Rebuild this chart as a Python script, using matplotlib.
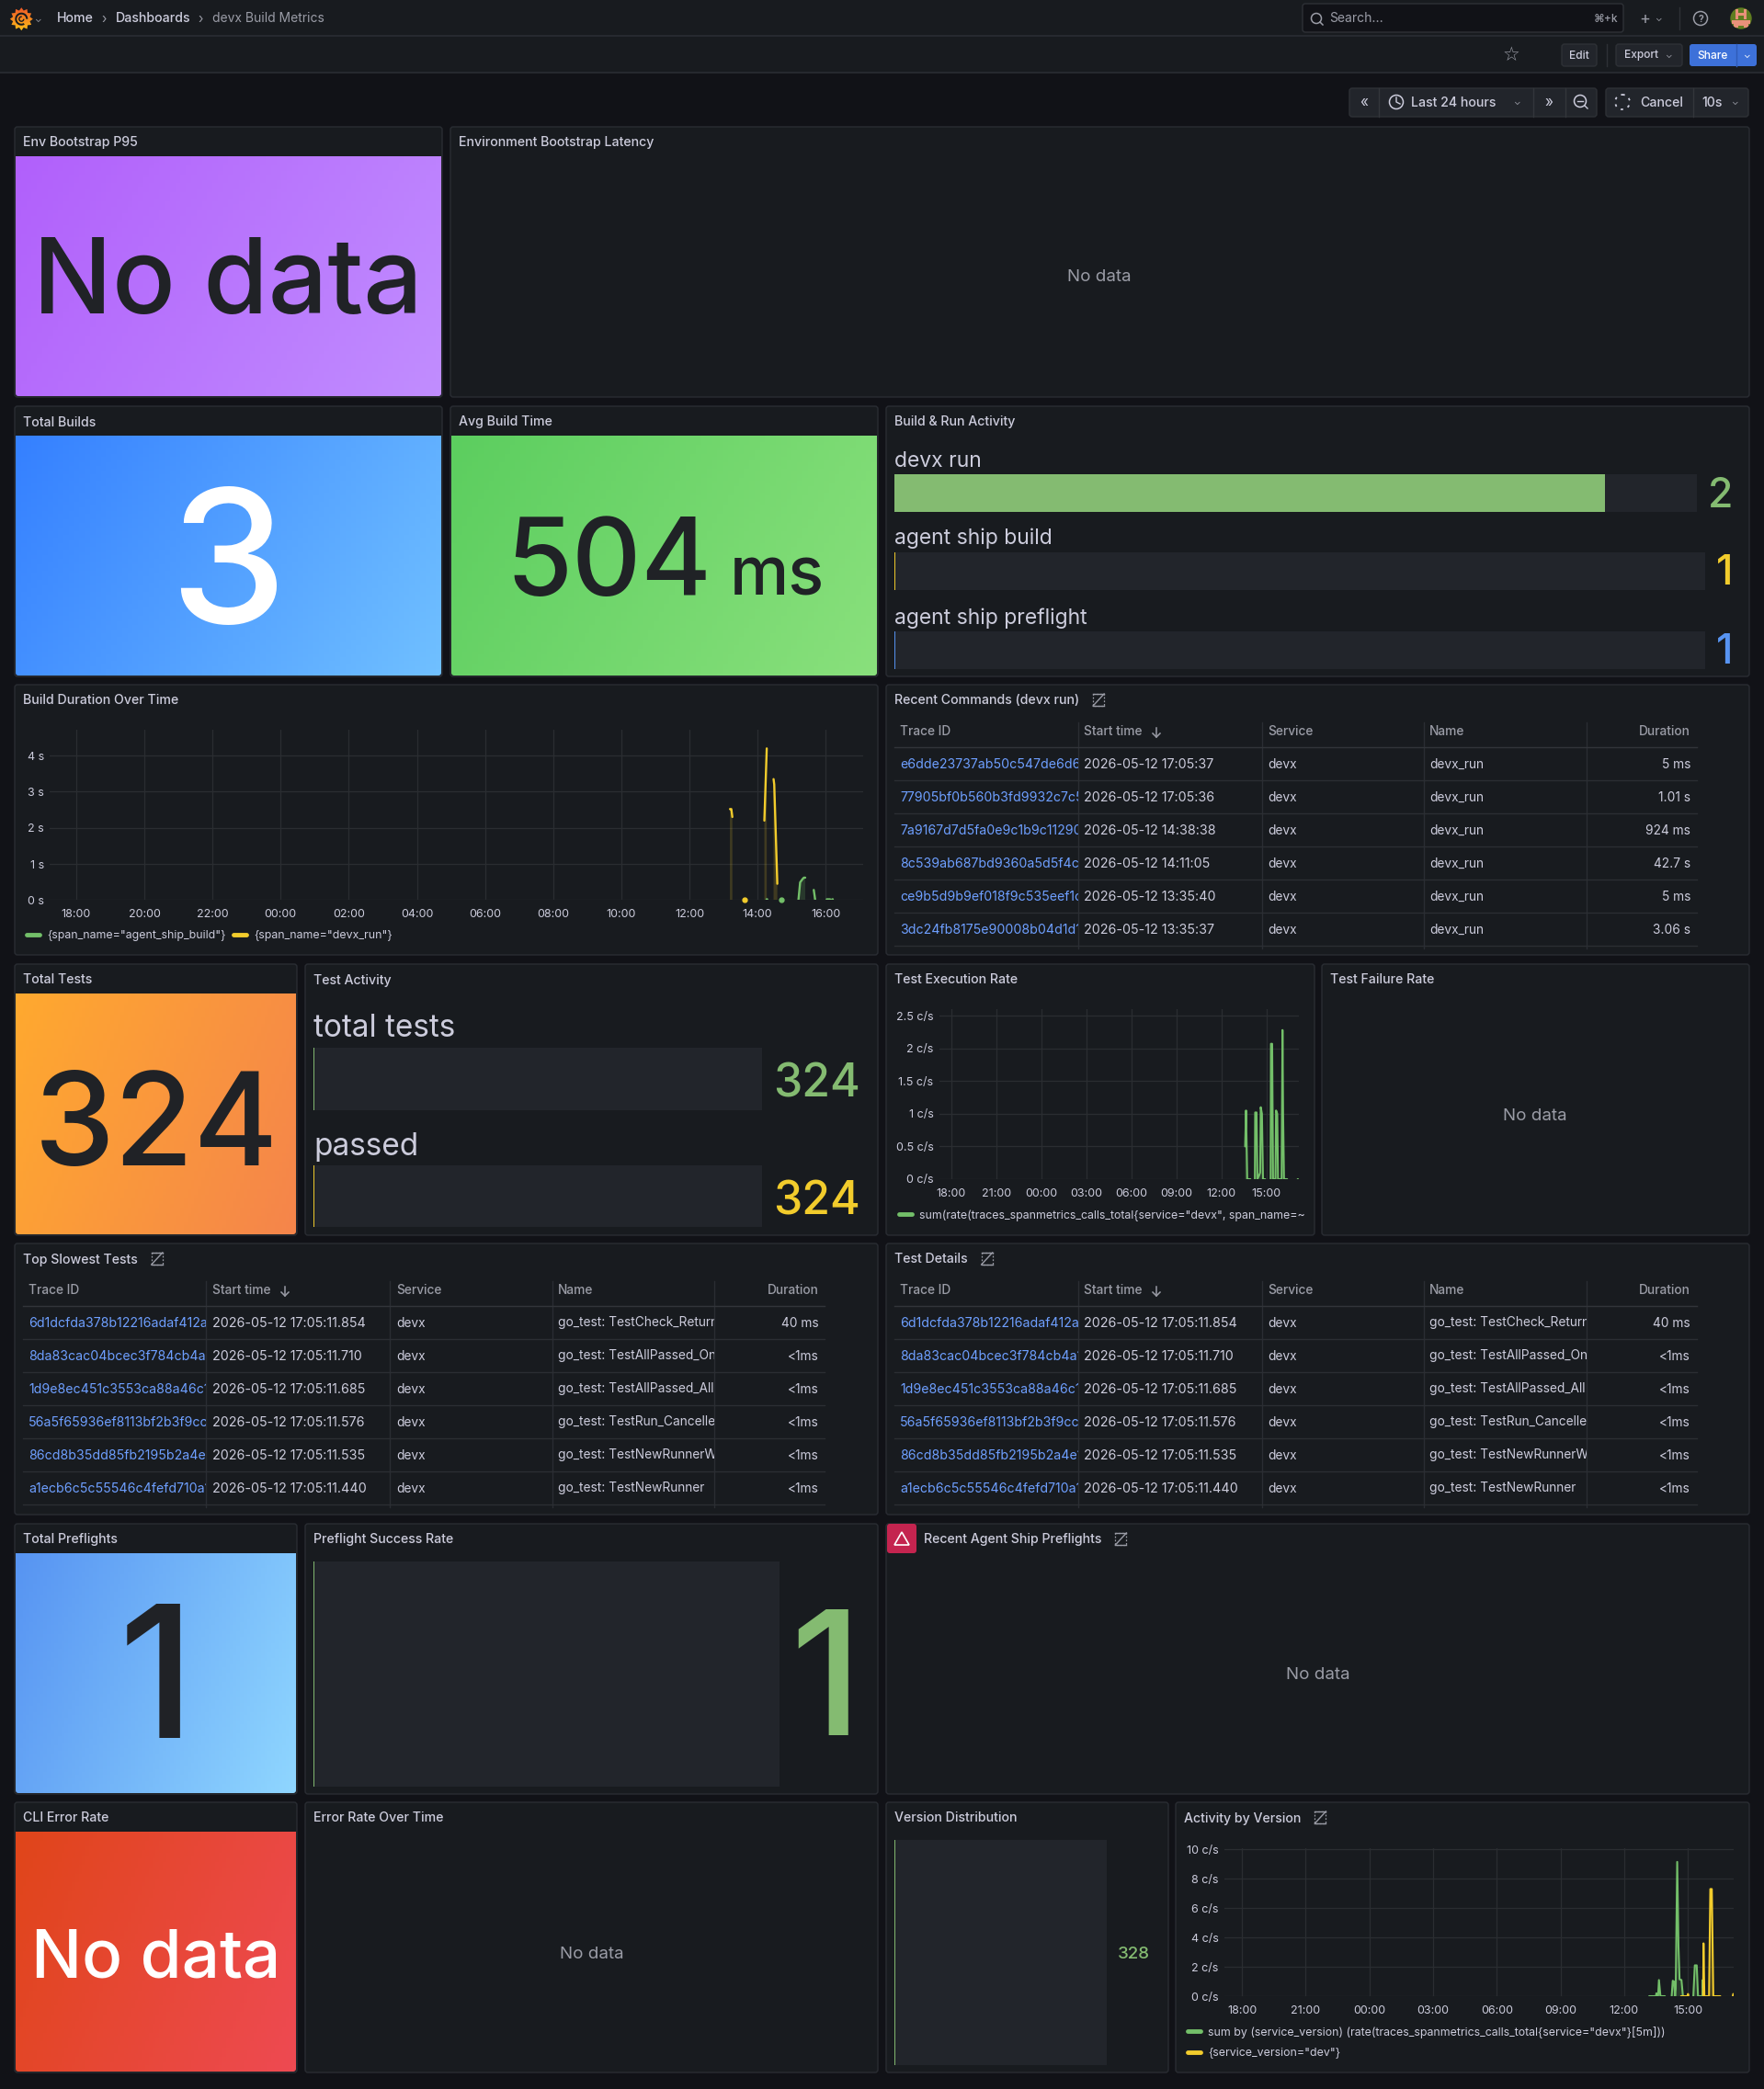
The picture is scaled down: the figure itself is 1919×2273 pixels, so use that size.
import numpy as np
import matplotlib
matplotlib.use("Agg")
import matplotlib.pyplot as plt
from matplotlib.patches import FancyBboxPatch, Rectangle, Circle, Polygon, Wedge
from matplotlib.colors import LinearSegmentedColormap

W, H = 1919, 2273
nan = float("nan")

BG = "#111217"
PANEL = "#181b1f"
BORDER = "#2a2d33"
GRID = "#2a2d31"
TEXT = "#ccccdc"
DIM = "#9a9ca6"
LINK = "#6e9fff"
GREEN = "#73bf69"
GAUGE_GREEN = "#84bb71"
YELLOW = "#f2cc2c"
BLUE = "#5794f2"
TRACK = "#22252b"

# build duration over time (hours, 24 = midnight)
build_ticks = [18, 20, 22, 24, 26, 28, 30, 32, 34, 36, 38, 40]
build_labels = ["18:00", "20:00", "22:00", "00:00", "02:00", "04:00", "06:00",
                "08:00", "10:00", "12:00", "14:00", "16:00"]
build_y_ticks = [0, 1, 2, 3, 4]
build_y_labels = ["0 s", "1 s", "2 s", "3 s", "4 s"]
devx_t = [37.19, 37.23, 37.26, nan, 38.20, 38.27, nan, 38.47, 38.49, 38.58]
devx_v = [2.52, 2.52, 2.30, nan, 2.2, 4.2, nan, 3.35, 3.2, 0.45]
devx_dots_t = [37.61]
devx_dots_v = [0.0]
ship_t = [38.265, 38.285, nan, 39.20, 39.25, 39.32, 39.36, 39.40, nan, 39.65, 39.69, nan, 40.03, 40.13, nan, 40.19, 40.21]
ship_v = [0.02, 0.02, nan, 0.0, 0.49, 0.58, 0.62, 0.62, nan, 0.28, 0.02, nan, 0.02, 0.02, nan, 0.02, 0.02]
ship_dots_t = [38.69]
ship_dots_v = [0.0]

# test execution rate
rate_ticks = [18, 21, 24, 27, 30, 33, 36, 39]
rate_labels = ["18:00", "21:00", "00:00", "03:00", "06:00", "09:00", "12:00", "15:00"]
rate_y_ticks = [0, 0.5, 1, 1.5, 2, 2.5]
rate_y_labels = ["0 c/s", "0.5 c/s", "1 c/s", "1.5 c/s", "2 c/s", "2.5 c/s"]
rate_t = [37.57, 37.63, 37.71, 37.92, nan,
          38.22, 38.24, 38.33, 38.39, 38.49, 38.57, 38.61, 38.69, 38.76, 38.90, nan,
          39.27, 39.29, 39.37, 39.43, 39.59, 39.63, 39.71, 39.76, 40.0, 40.06, 40.10, 40.16, 40.37, nan,
          41.07, 41.09]
rate_v = [0.5, 1.05, 0.0, 0.0, nan,
          0.0, 1.02, 1.02, 0.0, 0.05, 0.1, 1.1, 1.0, 0.0, 0.0, nan,
          0.0, 2.07, 2.07, 0.0, 0.0, 1.05, 1.0, 0.0, 0.0, 2.28, 1.0, 0.0, 0.0, nan,
          0.0, 0.0]

# activity by version
version_y_ticks = [0, 2, 4, 6, 8, 10]
version_y_labels = ["0 c/s", "2 c/s", "4 c/s", "6 c/s", "8 c/s", "10 c/s"]
total_t = [37.18, 37.5, 37.52, 37.60, 37.64, 37.71, 37.92, nan,
           38.24, 38.29, 38.35, 38.40, 38.43, 38.50, 38.56, 38.61, 38.70, 38.77, nan,
           39.26, 39.33, 39.42, 39.48, 39.69, 39.70, 39.76]
total_v = [0.0, 0.0, 0.2, 0.0, 1.1, 0.0, 0.0, nan,
           0.0, 1.05, 1.0, 0.0, 0.5, 9.15, 3.4, 1.15, 1.1, 0.0, nan,
           0.0, 2.1, 2.1, 0.0, 0.0, 1.1, 0.0]
dev_t = [38.68, 39.0, 39.01, 39.02, nan, 39.72, 39.74, 39.78, 40.0, 40.06, 40.13, 40.2, 40.53, nan, 41.12, 41.14]
dev_v = [0.0, 0.0, 0.15, 0.0, nan, 0.0, 3.6, 0.0, 0.0, 7.3, 7.3, 0.0, 0.0, nan, 0.0, 0.15]

# gauges
activity_names = ["devx run", "agent ship build", "agent ship preflight"]
activity_values = [2, 1, 1]
test_names = ["total tests", "passed"]
test_values = [324, 324]
preflight_rate = 1
version_count = 328

# tables
table_head = ["Trace ID", "Start time", "Service", "Name", "Duration"]
cmd_ids = ["e6dde23737ab50c547de6d6e1", "77905bf0b560b3fd9932c7c5a", "7a9167d7d5fa0e9c1b9c11290a",
           "8c539ab687bd9360a5d5f4c1e", "ce9b5d9b9ef018f9c535eef1c", "3dc24fb8175e90008b04d1d1a"]
cmd_times = ["2026-05-12 17:05:37", "2026-05-12 17:05:36", "2026-05-12 14:38:38",
             "2026-05-12 14:11:05", "2026-05-12 13:35:40", "2026-05-12 13:35:37"]
cmd_durations = ["5 ms", "1.01 s", "924 ms", "42.7 s", "5 ms", "3.06 s"]
cmd_names = ["devx_run"] * 6
test_ids = ["6d1dcfda378b12216adaf412a8", "8da83cac04bcec3f784cb4a1e", "1d9e8ec451c3553ca88a46c1",
            "56a5f65936ef8113bf2b3f9cc1", "86cd8b35dd85fb2195b2a4e1a", "a1ecb6c5c55546c4fefd710a1"]
test_times = ["2026-05-12 17:05:11.854", "2026-05-12 17:05:11.710", "2026-05-12 17:05:11.685",
              "2026-05-12 17:05:11.576", "2026-05-12 17:05:11.535", "2026-05-12 17:05:11.440"]
test_names_col = ["go_test: TestCheck_Returns", "go_test: TestAllPassed_Only", "go_test: TestAllPassed_All",
                  "go_test: TestRun_Cancelled", "go_test: TestNewRunnerWith", "go_test: TestNewRunner"]
test_durations = ["40 ms", "<1ms", "<1ms", "<1ms", "<1ms", "<1ms"]
services = ["devx"] * 6

plt.rcParams["font.family"] = ["Inter", "DejaVu Sans"]

fig = plt.figure(figsize=(W / 100, H / 100), dpi=100, facecolor=BG)
page = fig.add_axes([0, 0, 1, 1])
page.set_xlim(0, W)
page.set_ylim(H, 0)
page.axis("off")


def px_axes(x0, y0, x1, y1):
    ax = fig.add_axes([x0 / W, 1 - y1 / H, (x1 - x0) / W, (y1 - y0) / H])
    ax.set_facecolor("none")
    return ax


def label(x, y, s, size=10, color=TEXT, ha="left", va="center", weight="normal", clip=None):
    if va == "center":
        y = y + 1.5
    t = page.text(x, y, s, fontsize=size, color=color, ha=ha, va=va, fontweight=weight)
    if clip is not None:
        t.set_clip_path(Rectangle((clip[0], clip[1]), clip[2] - clip[0], clip[3] - clip[1], transform=page.transData))
        t.set_clip_on(True)
    return t


def rbox(x0, y0, x1, y1, face, edge="none", lw=1.0, r=3, z=1):
    p = FancyBboxPatch((x0 + r, y0 + r), x1 - x0 - 2 * r, y1 - y0 - 2 * r, boxstyle="round,pad=%d,rounding_size=%d" % (r, r),
                       facecolor=face, edgecolor=edge, linewidth=lw, zorder=z)
    page.add_patch(p)
    return p


def panel(x0, y0, x1, y1, title=None, nosync=False, title_x=None):
    rbox(x0, y0, x1, y1, PANEL, BORDER)
    if title:
        tx = x0 + 9 if title_x is None else title_x
        t = label(tx, y0 + 16, title, size=10.2, color=TEXT, weight="medium")
        if nosync:
            fig.canvas.draw()
            ext = t.get_window_extent()
            ix = ext.x1 + 21
            page.plot([ix - 6, ix + 6], [y0 + 23, y0 + 10], color=DIM, lw=1, zorder=3)
            page.plot([ix - 6, ix + 6], [y0 + 10, y0 + 10], color=DIM, lw=1, zorder=3)
            page.plot([ix - 6, ix + 6], [y0 + 23, y0 + 23], color=DIM, lw=1, zorder=3)
            page.add_patch(Rectangle((ix - 6, y0 + 10), 12, 13, fill=False, edgecolor=DIM, lw=0.9, ls=(0, (1.5, 1.5)), zorder=3))


def gradient(x0, y0, x1, y1, c0, c1):
    cmap = LinearSegmentedColormap.from_list("g", [c0, c1])
    yy, xx = np.mgrid[0:1:80j, 0:1:80j]
    im = page.imshow(0.75 * xx + 0.25 * yy, cmap=cmap, extent=(x0, x1, y1, y0), aspect="auto", zorder=2, vmin=0, vmax=1)
    clip = FancyBboxPatch((x0 + 3, y0 - 10), x1 - x0 - 6, y1 - y0 + 7, boxstyle="round,pad=3,rounding_size=3", transform=page.transData)
    im.set_clip_path(clip)
    page.set_xlim(0, W)
    page.set_ylim(H, 0)


def stat(x0, y0, x1, y1, title, c0, c1):
    panel(x0, y0, x1, y1, title)
    gradient(x0 + 1, y0 + 32, x1 - 1, y1 - 1, c0, c1)


def gauge(x0, y0, x1, y1, value, lo, hi, color):
    ax = px_axes(x0, y0, x1, y1)
    ax.barh([0], [hi - lo], left=lo, height=1, color=TRACK)
    ax.barh([0], [max(value - lo, 0)], left=lo, height=1, color=color)
    ax.axvline(lo, color=color, lw=1.4)
    ax.set_xlim(lo, hi)
    ax.set_ylim(-0.5, 0.5)
    ax.axis("off")


def chart(rect, xlim, ylim, xticks, xlabels, yticks, ylabels, size=9):
    ax = px_axes(*rect)
    ax.set_xlim(*xlim)
    ax.set_ylim(*ylim)
    ax.set_xticks(xticks, xlabels)
    ax.set_yticks(yticks, ylabels)
    ax.grid(True, color=GRID, lw=0.9)
    ax.set_axisbelow(True)
    ax.tick_params(axis="x", length=0, labelsize=size, labelcolor=TEXT, pad=7)
    ax.tick_params(axis="y", length=0, labelsize=size, labelcolor=TEXT, pad=4.5)
    for s in ax.spines.values():
        s.set_visible(False)
    return ax


def series(ax, t, v, color, lw=1.5):
    t = np.array(t)
    v = np.array(v)
    ax.plot(t, v, color=color, lw=lw, solid_capstyle="round", clip_on=True, zorder=3)
    ax.fill_between(t, 0, v, color=color, alpha=0.18, lw=0, zorder=2)


def legend_item(x, y, s, color, clip=None, size=8.9):
    page.plot([x, x + 14], [y, y], color=color, lw=3.5, solid_capstyle="round", zorder=3)
    label(x + 22, y, s, size=size, clip=clip, color=TEXT)


def table(x_left, x_right, cols, y_head, ids, times, names, durations, text_x):
    head_y = y_head + 17
    for c in cols:
        page.plot([c, c], [y_head - 10, y_head + 17 + 36 * 6 + 3], color=BORDER, lw=1, zorder=3)
    page.plot([x_left, x_right], [head_y, head_y], color="#32353a", lw=1, zorder=3)
    label(text_x[0], y_head - 1, table_head[0], size=9.9, color=DIM, weight="medium")
    label(text_x[1], y_head - 1, table_head[1], size=9.9, color=DIM, weight="medium")
    ax_ = text_x[1] + 79
    page.plot([ax_, ax_], [y_head - 4, y_head + 6], color=DIM, lw=1.1, zorder=3)
    page.plot([ax_ - 4, ax_, ax_ + 4], [y_head + 2, y_head + 6, y_head + 2], color=DIM, lw=1.1, zorder=3)
    label(text_x[2], y_head - 1, table_head[2], size=9.9, color=DIM, weight="medium")
    label(text_x[3], y_head - 1, table_head[3], size=9.9, color=DIM, weight="medium")
    label(text_x[4], y_head - 1, table_head[4], size=9.9, color=DIM, ha="right", weight="medium")
    for i in range(6):
        y = head_y + 18 + 36 * i
        line_y = head_y + 36 * (i + 1)
        page.plot([x_left, x_right], [line_y, line_y], color="#2b2e33", lw=1, zorder=3)
        label(text_x[0], y, ids[i], size=10.2, color=LINK, clip=(x_left, y - 14, cols[0], y + 14))
        label(text_x[1], y, times[i], size=10.3, clip=(cols[0], y - 14, cols[1], y + 14))
        label(text_x[2], y, services[i], size=9.9, clip=(cols[1], y - 14, cols[2], y + 14))
        label(text_x[3], y - 1, names[i], size=9.9, clip=(cols[2], y - 14, cols[3], y + 14))
        label(text_x[4], y, durations[i], size=9.9, ha="right")


# top bars
page.add_patch(Rectangle((0, 0), W, 79, facecolor=PANEL, edgecolor="none", zorder=0))
page.plot([0, W], [39, 39], color="#2a2d33", lw=1.2, zorder=1)
page.plot([0, W], [79, 79], color="#2a2d33", lw=1.2, zorder=1)

# logo
ang = np.linspace(0, 2 * np.pi, 24, endpoint=False)
rad = np.where(np.arange(24) % 2 == 0, 12.5, 9.5)
gear = Polygon(np.c_[23.3 + rad * np.cos(ang), 20.7 + rad * np.sin(ang)], closed=True, transform=page.transData)
logo_cmap = LinearSegmentedColormap.from_list("logo", ["#f05a28", "#f58a1f", "#fbc21a"])
logo = page.imshow(np.linspace(0, 1, 30).reshape(-1, 1), cmap=logo_cmap, extent=(10, 37, 34, 8), aspect="auto", zorder=3)
logo.set_clip_path(gear)
page.set_xlim(0, W)
page.set_ylim(H, 0)
page.add_patch(Wedge((23.3, 20.7), 7, 60, 360, width=2, facecolor=PANEL, edgecolor="none", zorder=4))
page.add_patch(Wedge((23.3, 20.7), 3.2, 0, 280, width=1.4, facecolor=PANEL, edgecolor="none", zorder=4))
label(41, 19, "⌄", size=7, color=DIM, ha="center")
label(62, 19, "Home", size=10.2, weight="medium")
label(113, 19, "›", size=10, color=DIM, ha="center")
label(126, 19, "Dashboards", size=10.2, weight="medium")
label(218, 19, "›", size=10, color=DIM, ha="center")
label(231, 19, "devx Build Metrics", size=10, color=DIM)

rbox(1417, 4, 1766, 35, BG, "#2e3136")
page.add_patch(Circle((1432, 20), 5.5, fill=False, edgecolor=DIM, lw=1.1, zorder=3))
page.plot([1436, 1439], [24, 27], color=DIM, lw=1.1, zorder=3)
label(1446, 19, "Search...", size=10, color=DIM)
label(1760, 19, "⌘+k", size=8.6, color=DIM, ha="right", weight="medium")
label(1789, 20, "+", size=13, color=DIM, ha="center")
label(1804, 18, "⌄", size=7, color=DIM, ha="center")
page.plot([1827, 1827], [8, 32], color="#2e3136", lw=1)
page.add_patch(Circle((1850, 20), 7.5, fill=False, edgecolor=DIM, lw=1.1, zorder=3))
label(1850, 19, "?", size=7.5, color=DIM, ha="center", weight="bold")

# avatar
avatar_clip = Circle((1894, 20), 11.7, transform=page.transData)
page.add_patch(Circle((1894, 20), 11.7, facecolor="#5f7d20", edgecolor="none", zorder=3))
for rx, ry, rw, rh in [(1888, 10, 3, 11), (1897, 10, 3, 11), (1888, 14, 12, 3), (1884, 22, 20, 4),
                       (1886, 26, 5, 4), (1897, 26, 5, 4), (1891, 26, 6, 2)]:
    r_ = Rectangle((rx, ry), rw, rh, facecolor="#e8917a", edgecolor="none", zorder=4)
    page.add_patch(r_)
    r_.set_clip_path(avatar_clip)

page.text(1644, 60, "☆", fontsize=15, color=DIM, ha="center", va="center", family="DejaVu Sans")
rbox(1699, 48, 1737, 72, "#22252b", "#2e3136")
label(1718, 59, "Edit", size=8.6, ha="center", weight="medium")
page.plot([1748, 1748], [48, 72], color="#2e3136", lw=1)
rbox(1758, 48, 1830, 72, "#22252b", "#2e3136")
label(1785, 59, "Export", size=8.6, ha="center", weight="medium")
label(1815, 58, "⌄", size=7, ha="center", color=DIM)
rbox(1838, 48, 1911, 72, "#3d71d9")
label(1863, 59, "Share", size=8.6, color="white", ha="center", weight="medium")
page.plot([1889, 1889], [48, 72], color="#2f5cb8", lw=1, zorder=3)
label(1900, 58, "⌄", size=7, color="white", ha="center")

rbox(1468, 96, 1737, 127, "#22252b", "#2e3136")
for sx in [1500, 1668, 1703]:
    page.plot([sx, sx], [96, 127], color="#33363b", lw=1, zorder=3)
label(1484, 110, "«", size=11, ha="center")
page.add_patch(Circle((1519, 111), 7.5, fill=False, edgecolor=TEXT, lw=1.1, zorder=3))
page.plot([1519, 1519, 1523], [106, 111, 113], color=TEXT, lw=1, zorder=3)
label(1535, 111, "Last 24 hours", size=10.2, weight="medium")
label(1650, 109, "⌄", size=7, color=DIM, ha="center")
label(1685, 110, "»", size=11, ha="center")
page.add_patch(Circle((1719, 110), 6.5, fill=False, edgecolor=TEXT, lw=1.1, zorder=3))
page.plot([1716, 1722], [110, 110], color=TEXT, lw=1, zorder=3)
page.plot([1724, 1727], [115, 118], color=TEXT, lw=1, zorder=3)
rbox(1747, 96, 1902, 127, "#22252b", "#2e3136")
page.plot([1842, 1842], [96, 127], color="#33363b", lw=1, zorder=3)
page.add_patch(Circle((1765, 111), 8, fill=False, edgecolor=TEXT, lw=1.3, ls=(0, (1.5, 3)), zorder=3))
label(1784, 111, "Cancel", size=10.2, weight="medium")
label(1851, 111, "10s", size=10.2, weight="medium")
label(1887, 109, "⌄", size=7, color=DIM, ha="center")

# row 1
stat(16, 138, 481, 432, "Env Bootstrap P95", "#b160fb", "#c18dff")
label(248, 341, "No data", size=82, color="#202226", ha="center", va="baseline", weight="medium")
panel(490, 138, 1903, 432, "Environment Bootstrap Latency")
label(1196, 300, "No data", size=13.5, color=DIM, ha="center")

# row 2
stat(16, 442, 481, 736, "Total Builds", "#3580ff", "#70c0ff")
label(248, 678, "3", size=146, color="white", ha="center", va="baseline", weight="medium")
stat(490, 442, 955, 736, "Avg Build Time", "#5cce5f", "#89e07c")
label(662, 648, "504", size=84, color="#202226", ha="center", va="baseline", weight="medium")
label(845, 648, "ms", size=52, color="#202226", ha="center", va="baseline", weight="medium")

panel(964, 442, 1903, 736, "Build & Run Activity")
for name, y in zip(activity_names, [500.5, 584, 671.5]):
    label(973, y, name, size=16.5)
gauge(973, 516, 1846, 557, activity_values[0], 1, 2.13, GAUGE_GREEN)
gauge(973, 601, 1855, 642, activity_values[1], 1, 2.13, YELLOW)
gauge(973, 687, 1855, 728, activity_values[2], 1, 2.13, BLUE)
label(1872, 538, str(activity_values[0]), size=32, color=GAUGE_GREEN, ha="center", weight="medium")
label(1876, 623, str(activity_values[1]), size=32, color=YELLOW, ha="center", weight="medium")
label(1876, 708, str(activity_values[2]), size=32, color=BLUE, ha="center", weight="medium")

# row 3
panel(16, 745, 955, 1039, "Build Duration Over Time")
ax = chart((54, 794.3, 939, 979.3), (17.22, 41.1), (0, 4.71), build_ticks, build_labels, build_y_ticks, build_y_labels)
series(ax, devx_t, devx_v, YELLOW, lw=1.7)
series(ax, ship_t, ship_v, GREEN, lw=1.7)
ax.plot(devx_dots_t, devx_dots_v, "o", color=YELLOW, ms=3.5, clip_on=False)
ax.plot(ship_dots_t, ship_dots_v, "o", color=GREEN, ms=3.5, clip_on=False)
legend_item(29, 1017, '{span_name="agent_ship_build"}', GREEN)
legend_item(254, 1017, '{span_name="devx_run"}', YELLOW)

panel(964, 745, 1903, 1039, "Recent Commands (devx run)", nosync=True)
table(973, 1846, [1172.5, 1372.7, 1549, 1725.5], 796, cmd_ids, cmd_times, cmd_names, cmd_durations,
      [979, 1179, 1379, 1555, 1839])

# row 4
stat(16, 1049, 323, 1344, "Total Tests", "#ffa92f", "#f5854b")
label(170, 1268, "324", size=101, color="#202226", ha="center", va="baseline", weight="medium")
panel(332, 1049, 955, 1344, "Test Activity")
label(341, 1118, test_names[0], size=24)
label(341, 1246, test_names[1], size=24)
gauge(341, 1140, 829, 1208, test_values[0], 324, 325, GAUGE_GREEN)
gauge(341, 1268, 829, 1335, test_values[1], 324, 325, YELLOW)
label(889, 1178, str(test_values[0]), size=36, color=GAUGE_GREEN, ha="center", weight="medium")
label(889, 1306, str(test_values[1]), size=36, color=YELLOW, ha="center", weight="medium")

panel(964, 1049, 1430, 1344, "Test Execution Rate")
ax = chart((1021.7, 1098, 1413, 1283), (17.19, 41.15), (0, 2.6), rate_ticks, rate_labels, rate_y_ticks, rate_y_labels)
series(ax, rate_t, rate_v, GREEN)
legend_item(978, 1321, 'sum(rate(traces_spanmetrics_calls_total{service="devx", span_name=~"go_test.*"}[5m]))', GREEN,
            clip=(964, 1300, 1421, 1340))
panel(1438, 1049, 1903, 1344, "Test Failure Rate")
label(1670, 1213, "No data", size=13.5, color=DIM, ha="center")

# row 5
panel(16, 1353, 955, 1648, "Top Slowest Tests", nosync=True)
table(25, 897, [224, 424, 601, 776.5], 1404, test_ids, test_times, test_names_col, test_durations,
      [31, 231, 431, 607, 891])
panel(964, 1353, 1903, 1648, "Test Details", nosync=True)
table(973, 1846, [1172.5, 1372.7, 1549, 1725.5], 1404, test_ids, test_times, test_names_col, test_durations,
      [979, 1179, 1379, 1555, 1839])

# row 6
stat(16, 1658, 323, 1952, "Total Preflights", "#5794f2", "#8fd6ff")
label(170, 1891, "1", size=144, color="#202226", ha="center", va="baseline", weight="medium")
panel(332, 1658, 955, 1952, "Preflight Success Rate")
gauge(341, 1699, 848, 1944, preflight_rate, 1, 2, GAUGE_GREEN)
label(898, 1888, str(preflight_rate), size=135, color=GAUGE_GREEN, ha="center", va="baseline", weight="medium")
panel(964, 1658, 1903, 1952, "Recent Agent Ship Preflights", nosync=True, title_x=1005)
rbox(965, 1658, 997, 1690, "#c4244f", r=3, z=3)
page.add_patch(Polygon([[981, 1667], [989, 1681], [973, 1681]], closed=True, fill=False, edgecolor="white", lw=1.2, zorder=4))
label(1434, 1821, "No data", size=13.5, color=DIM, ha="center")

# row 7
stat(16, 1961, 323, 2255, "CLI Error Rate", "#e0451a", "#ee4a52")
label(170, 2151, "No data", size=52.5, color="white", ha="center", va="baseline", weight="medium")
panel(332, 1961, 955, 2255, "Error Rate Over Time")
label(644, 2125, "No data", size=13.5, color=DIM, ha="center")
panel(964, 1961, 1271, 2255, "Version Distribution")
gauge(973, 2002, 1204, 2247, version_count, 328, 329, GAUGE_GREEN)
label(1233, 2125, str(version_count), size=13.5, color=GAUGE_GREEN, ha="center", weight="medium")

panel(1279, 1961, 1903, 2255, "Activity by Version", nosync=True)
ax = chart((1331.8, 2010.7, 1886, 2172), (17.16, 41.16), (0, 10.1), rate_ticks, rate_labels, version_y_ticks, version_y_labels)
series(ax, total_t, total_v, GREEN)
series(ax, dev_t, dev_v, YELLOW)
legend_item(1292, 2210, 'sum by (service_version) (rate(traces_spanmetrics_calls_total{service="devx"}[5m]))', GREEN)
legend_item(1292, 2233, '{service_version="dev"}', YELLOW)

fig.savefig("out.png", dpi=100, facecolor=BG)
